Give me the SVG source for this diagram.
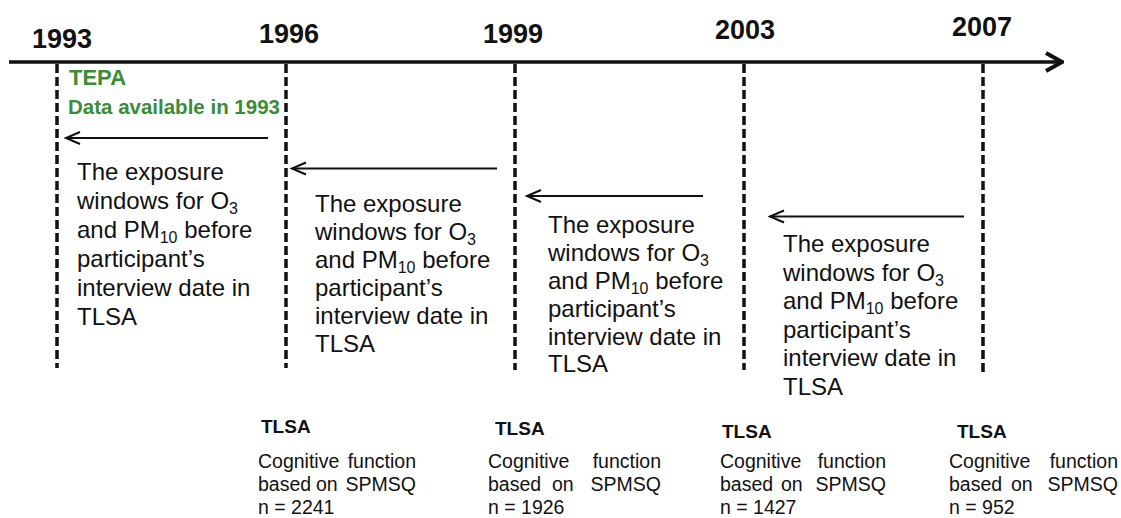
<svg xmlns="http://www.w3.org/2000/svg" width="1121" height="518" viewBox="0 0 1121 518">
<style>
.yr{font-family:"Liberation Sans",Arial,sans-serif;font-weight:bold;font-size:27px;fill:#111}
.dash{stroke:#111;stroke-width:3.5;stroke-dasharray:9 4;fill:none}
.body{font-family:"Liberation Sans",Arial,sans-serif;font-size:24px;fill:#111}
.sub{font-size:16px}
.green{font-family:"Liberation Sans",Arial,sans-serif;font-weight:bold;fill:#3b8c37}
.tl{font-family:"Liberation Sans",Arial,sans-serif;font-weight:bold;font-size:19px;fill:#111}
.cog{font-family:"Liberation Sans",Arial,sans-serif;font-size:19.5px;fill:#111}
.arr{stroke:#111;stroke-width:2;fill:none}
.axis{stroke:#111;stroke-width:3.5;fill:none}
</style>
<defs>
<marker id="head" markerUnits="userSpaceOnUse" viewBox="-16 -8 18 16" markerWidth="18" markerHeight="16" refX="0" refY="0" orient="auto">
<path d="M-14,-6 L0,0 L-14,6" stroke="#111" stroke-width="2" fill="none"/>
</marker>
<marker id="bighead" markerUnits="userSpaceOnUse" viewBox="-20 -11 22 22" markerWidth="22" markerHeight="22" refX="0" refY="0" orient="auto">
<path d="M-16,-9 L0,0 L-16,9" stroke="#111" stroke-width="4" fill="none"/>
</marker>
</defs>
<rect width="1121" height="518" fill="#fff"/>

<g id="connectors">
<line id="axis" class="axis" x1="9" y1="62" x2="1062" y2="62" marker-end="url(#bighead)"/>
<line class="arr" x1="268" y1="138" x2="66" y2="138" marker-end="url(#head)"/>
<line class="arr" x1="497" y1="168.5" x2="292" y2="168.5" marker-end="url(#head)"/>
<line class="arr" x1="703" y1="196" x2="527" y2="196" marker-end="url(#head)"/>
<line class="arr" x1="964" y1="216.5" x2="770" y2="216.5" marker-end="url(#head)"/>
</g>

<g id="year1993">
<text class="yr" x="32" y="48">1993</text>
<line class="dash" x1="57" y1="64" x2="57" y2="368"/>
</g>
<g id="year1996">
<text class="yr" x="259" y="43">1996</text>
<line class="dash" x1="286" y1="64" x2="286" y2="368"/>
</g>
<g id="year1999">
<text class="yr" x="483" y="43">1999</text>
<line class="dash" x1="515" y1="64" x2="515" y2="370"/>
</g>
<g id="year2003">
<text class="yr" x="715" y="39">2003</text>
<line class="dash" x1="744" y1="64" x2="744" y2="370"/>
</g>
<g id="year2007">
<text class="yr" x="952" y="36">2007</text>
<line class="dash" x1="983" y1="64" x2="983" y2="372"/>
</g>

<g id="tepa">
<text class="green" x="69" y="85" font-size="22">TEPA</text>
<text class="green" x="68" y="114" font-size="20.5">Data available in 1993</text>
</g>

<g id="exposure1">
<text class="body">
<tspan x="77" y="180">The exposure</tspan>
<tspan x="77" y="209">windows for O<tspan class="sub" dy="5">3</tspan></tspan>
<tspan x="77" y="238">and PM<tspan class="sub" dy="5">10</tspan><tspan dy="-5"> before</tspan></tspan>
<tspan x="77" y="267">participant’s</tspan>
<tspan x="77" y="296">interview date in</tspan>
<tspan x="77" y="325">TLSA</tspan>
</text>
</g>
<g id="exposure2">
<text class="body">
<tspan x="315" y="212">The exposure</tspan>
<tspan x="315" y="240">windows for O<tspan class="sub" dy="5">3</tspan></tspan>
<tspan x="315" y="268">and PM<tspan class="sub" dy="5">10</tspan><tspan dy="-5"> before</tspan></tspan>
<tspan x="315" y="296">participant’s</tspan>
<tspan x="315" y="324">interview date in</tspan>
<tspan x="315" y="352">TLSA</tspan>
</text>
</g>
<g id="exposure3">
<text class="body">
<tspan x="548" y="233">The exposure</tspan>
<tspan x="548" y="261">windows for O<tspan class="sub" dy="5">3</tspan></tspan>
<tspan x="548" y="289">and PM<tspan class="sub" dy="5">10</tspan><tspan dy="-5"> before</tspan></tspan>
<tspan x="548" y="317">participant’s</tspan>
<tspan x="548" y="345">interview date in</tspan>
<tspan x="548" y="372">TLSA</tspan>
</text>
</g>
<g id="exposure4">
<text class="body">
<tspan x="783" y="252">The exposure</tspan>
<tspan x="783" y="281">windows for O<tspan class="sub" dy="5">3</tspan></tspan>
<tspan x="783" y="309">and PM<tspan class="sub" dy="5">10</tspan><tspan dy="-5"> before</tspan></tspan>
<tspan x="783" y="338">participant’s</tspan>
<tspan x="783" y="366">interview date in</tspan>
<tspan x="783" y="395">TLSA</tspan>
</text>
</g>

<g id="tlsa1996">
<text class="tl" x="261" y="433">TLSA</text>
<text class="cog"><tspan x="258" y="468">Cognitive</tspan><tspan x="416" y="468" text-anchor="end">function</tspan></text>
<text class="cog"><tspan x="258" y="491">based</tspan><tspan x="316" y="491">on</tspan><tspan x="416" y="491" text-anchor="end">SPMSQ</tspan></text>
<text class="cog" x="258" y="514">n = 2241</text>
</g>
<g id="tlsa1999">
<text class="tl" x="495" y="435">TLSA</text>
<text class="cog"><tspan x="488" y="468">Cognitive</tspan><tspan x="661" y="468" text-anchor="end">function</tspan></text>
<text class="cog"><tspan x="488" y="491">based</tspan><tspan x="552" y="491">on</tspan><tspan x="661" y="491" text-anchor="end">SPMSQ</tspan></text>
<text class="cog" x="488" y="514">n = 1926</text>
</g>
<g id="tlsa2003">
<text class="tl" x="722" y="438">TLSA</text>
<text class="cog"><tspan x="720" y="468">Cognitive</tspan><tspan x="886" y="468" text-anchor="end">function</tspan></text>
<text class="cog"><tspan x="720" y="491">based</tspan><tspan x="781" y="491">on</tspan><tspan x="886" y="491" text-anchor="end">SPMSQ</tspan></text>
<text class="cog" x="720" y="514">n = 1427</text>
</g>
<g id="tlsa2007">
<text class="tl" x="957" y="438">TLSA</text>
<text class="cog"><tspan x="949" y="468">Cognitive</tspan><tspan x="1118" y="468" text-anchor="end">function</tspan></text>
<text class="cog"><tspan x="949" y="491">based</tspan><tspan x="1011" y="491">on</tspan><tspan x="1118" y="491" text-anchor="end">SPMSQ</tspan></text>
<text class="cog" x="949" y="514">n = 952</text>
</g>
</svg>
